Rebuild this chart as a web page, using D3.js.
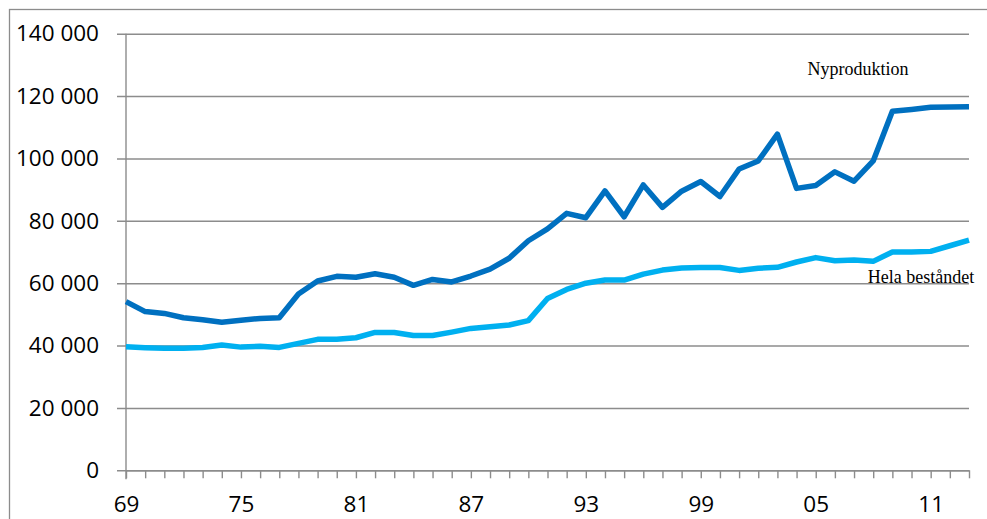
<!DOCTYPE html>
<html>
<head>
<meta charset="utf-8">
<script src="https://cdn.jsdelivr.net/npm/d3@7"></script>
<style>
  html, body { margin: 0; padding: 0; background: #fff; }
  svg { display: block; }
</style>
</head>
<body>
<svg id="chart" width="987" height="519"></svg>
<script>
// years 1969..2013
const years = d3.range(1969, 2014)
const tickYears = [1969, 1975, 1981, 1987, 1993, 1999, 2005, 2011]
const yTicks = [0, 20000, 40000, 60000, 80000, 100000, 120000, 140000]

// Nyproduktion (thousands)
const nyproduktion = [
  54.1, 50.9, 50.3, 48.9, 48.3, 47.5, 48.1, 48.7, 48.9, 56.5,
  60.7, 62.2, 61.9, 63.0, 61.9, 59.3, 61.2, 60.4, 62.3, 64.5,
  68.0, 73.6, 77.4, 82.4, 81.0, 89.6, 81.3, 91.5, 84.3, 89.5,
  92.6, 87.8, 96.6, 99.2, 107.8, 90.4, 91.3, 95.7, 92.7, 99.2,
  115.1, 115.7, 116.4, 116.5, 116.6
]

// Hela beståndet (thousands)
const helaBestandet = [
  39.6, 39.3, 39.1, 39.1, 39.4, 40.2, 39.5, 39.8, 39.4, 40.7,
  42.0, 42.0, 42.5, 44.2, 44.2, 43.2, 43.2, 44.3, 45.5, 46.0,
  46.6, 48.0, 55.1, 58.0, 60.0, 61.0, 61.0, 62.9, 64.2, 64.9,
  65.0, 65.0, 64.1, 64.8, 65.1, 66.8, 68.2, 67.2, 67.4, 67.0,
  70.0, 70.0, 70.2, 72.0, 73.8
]

const svg = d3.select('#chart')

// outer frame
svg.append('rect')
  .attr('x', 9.5).attr('y', 9.5)
  .attr('width', 1000).attr('height', 600)
  .style('fill', 'none')
  .style('stroke', '#8c8c8c')
  .style('stroke-width', 1.3)

const plotLeft = 126, plotRight = 969, plotTop = 33.7, plotBottom = 470.3

const x = d3.scaleLinear().domain([1969, 2013]).range([plotLeft, plotRight])
const y = d3.scaleLinear().domain([0, 140000]).range([plotBottom, plotTop])

const fmt = v => d3.format(',')(v).replace(/,/g, ' ')

// gridlines + y labels
const yAxis = svg.append('g')
  .attr('transform', `translate(${plotLeft},0)`)
  .call(d3.axisLeft(y).tickValues(yTicks).tickSize(9).tickPadding(18).tickFormat(fmt))
yAxis.select('.domain').remove()
yAxis.selectAll('.tick line').remove()
yAxis.selectAll('.tick').append('line')
  .attr('x1', -9).attr('x2', plotRight - plotLeft)
  .style('stroke', '#8c8c8c').style('stroke-width', 1.4)
yAxis.selectAll('text')
  .style('font-family', '"Open Sans", sans-serif')
  .style('font-size', '22.5px')
  .style('fill', '#000')

// vertical y axis line
svg.append('line')
  .attr('x1', plotLeft).attr('x2', plotLeft)
  .attr('y1', plotTop).attr('y2', plotBottom + 9)
  .style('stroke', '#8c8c8c').style('stroke-width', 1.4)

// x axis
const xAxis = svg.append('g')
  .attr('transform', `translate(0,${plotBottom})`)
  .call(d3.axisBottom(x).tickValues(years).tickSize(8).tickSizeOuter(0)
    .tickFormat(d => tickYears.includes(d) ? String(d).slice(2) : ''))
xAxis.select('.domain').style('stroke', '#8c8c8c').style('stroke-width', 1.4)
xAxis.selectAll('.tick line').style('stroke', '#8c8c8c').style('stroke-width', 1.4)
xAxis.selectAll('text')
  .attr('y', 26)
  .style('font-family', '"Open Sans", sans-serif')
  .style('font-size', '22.5px')
  .style('fill', '#000')

const line = d3.line()
  .x((d, i) => x(years[i]))
  .y(d => y(d * 1000))

svg.append('path')
  .datum(helaBestandet)
  .style('fill', 'none')
  .style('stroke', '#00b0f0')
  .style('stroke-width', 5.5)
  .style('stroke-linejoin', 'round')
  .attr('d', line)

svg.append('path')
  .datum(nyproduktion)
  .style('fill', 'none')
  .style('stroke', '#0070c0')
  .style('stroke-width', 5.5)
  .style('stroke-linejoin', 'round')
  .attr('d', line)

// series labels
svg.append('text')
  .attr('x', 858).attr('y', 75)
  .attr('text-anchor', 'middle')
  .style('font-family', '"Liberation Serif", serif')
  .style('font-size', '18px')
  .text('Nyproduktion')

svg.append('text')
  .attr('x', 921).attr('y', 283)
  .attr('text-anchor', 'middle')
  .style('font-family', '"Liberation Serif", serif')
  .style('font-size', '18px')
  .text('Hela beståndet')
</script>
</body>
</html>
